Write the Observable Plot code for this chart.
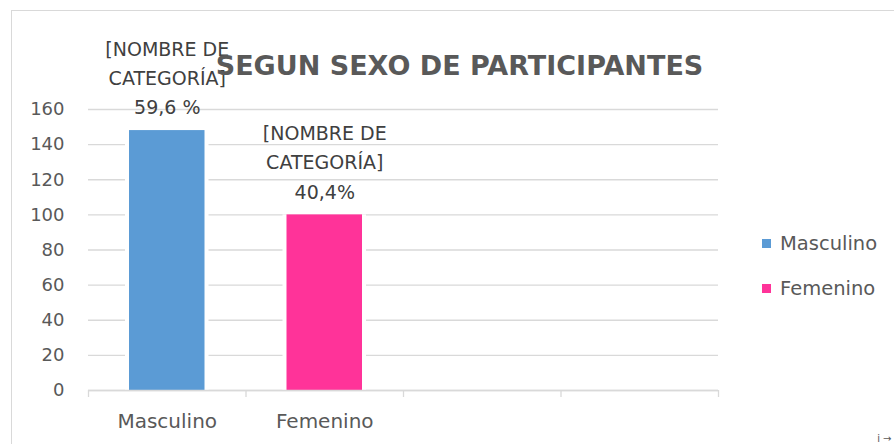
<!DOCTYPE html>
<html>
<head>
<meta charset="utf-8">
<script src="https://cdn.jsdelivr.net/npm/d3@7"></script>
<script src="https://cdn.jsdelivr.net/npm/@observablehq/plot@0.6"></script>
<style>
  html, body { margin: 0; padding: 0; background: #fff; }
  #wrap { position: relative; width: 894px; height: 444px; overflow: hidden; font-family: "DejaVu Sans", sans-serif; }
  #frame { position: absolute; left: 11px; top: 10px; width: 900px; height: 460px; border: 1px solid #d9d9d9; box-sizing: border-box; }
  #legend { position: absolute; left: 762px; top: 229px; color: #595959; font-size: 19.5px; }
  .item { display: flex; align-items: center; height: 28px; margin-bottom: 17px; }
  .sw { width: 9px; height: 9px; margin-right: 9px; }
  #chart { position: absolute; left: 0; top: 0; }
</style>
</head>
<body>
<div id="wrap">
  <div id="frame"></div>
  <div id="chart"></div>
  <div id="legend"></div>
</div>
<script>
const title = "SEGUN SEXO DE PARTICIPANTES";
const categories = ["Masculino", "Femenino"];
const values = [148, 100];
const colors = ["#5B9BD5", "#FF3399"];
const percentLabels = ["59,6 %", "40,4%"];
const labelPrefix = "[NOMBRE DE\nCATEGORÍA]";
const slotCount = 4;
const yTicks = [0, 20, 40, 60, 80, 100, 120, 140, 160];

const data = categories.map((c, i) => ({
  category: c, value: values[i], color: colors[i], i,
  label: labelPrefix + "\n" + percentLabels[i]
}));
const boundaries = d3.range(slotCount + 1);
const gray = "#595959";

const chart = Plot.plot({
  width: 894,
  height: 444,
  marginLeft: 88,
  marginRight: 176,
  marginTop: 109,
  marginBottom: 54,
  style: { fontFamily: "DejaVu Sans, sans-serif", color: gray, background: "transparent" },
  x: { type: "linear", domain: [0, slotCount] },
  y: { domain: [0, 160] },
  marks: [
    Plot.gridY(yTicks, { stroke: "#d9d9d9", strokeOpacity: 1, strokeWidth: 1.3 }),
    Plot.rectY(data, { x1: "i", x2: d => d.i + 1, y: "value", fill: "white", insetLeft: 37, insetRight: 37 }),
    Plot.rectY(data, { x1: "i", x2: d => d.i + 1, y: "value", fill: "color", insetLeft: 41, insetRight: 41 }),
    Plot.ruleY([0], { stroke: "#d9d9d9", strokeWidth: 1.3 }),
    Plot.axisX({ ticks: boundaries, tickSize: 7, tickFormat: () => "", stroke: "#d9d9d9", strokeWidth: 1.3 }),
    Plot.axisY({ ticks: yTicks, tickSize: 0, tickPadding: 24, fontSize: 18, fill: gray, label: null }),
    Plot.text(data, { x: d => d.i + 0.5, y: 0, text: "category", dy: 31, fontSize: 20, fill: gray }),
    Plot.text(data, { x: d => d.i + 0.5, y: "value", text: "label", dy: -55, lineHeight: 1.55, fontSize: 19, fill: "#404040" }),
    Plot.text([title], { frameAnchor: "top", dx: 56, dy: -54, fontSize: 27, fontWeight: "bold", fill: gray })
  ]
});
document.getElementById("chart").appendChild(chart);

const legend = document.getElementById("legend");
categories.forEach((c, i) => {
  const item = document.createElement("div");
  item.className = "item";
  const sw = document.createElement("span");
  sw.className = "sw";
  sw.style.background = colors[i];
  const t = document.createElement("span");
  t.textContent = c;
  item.appendChild(sw);
  item.appendChild(t);
  legend.appendChild(item);
});
</script>
</body>
</html>
